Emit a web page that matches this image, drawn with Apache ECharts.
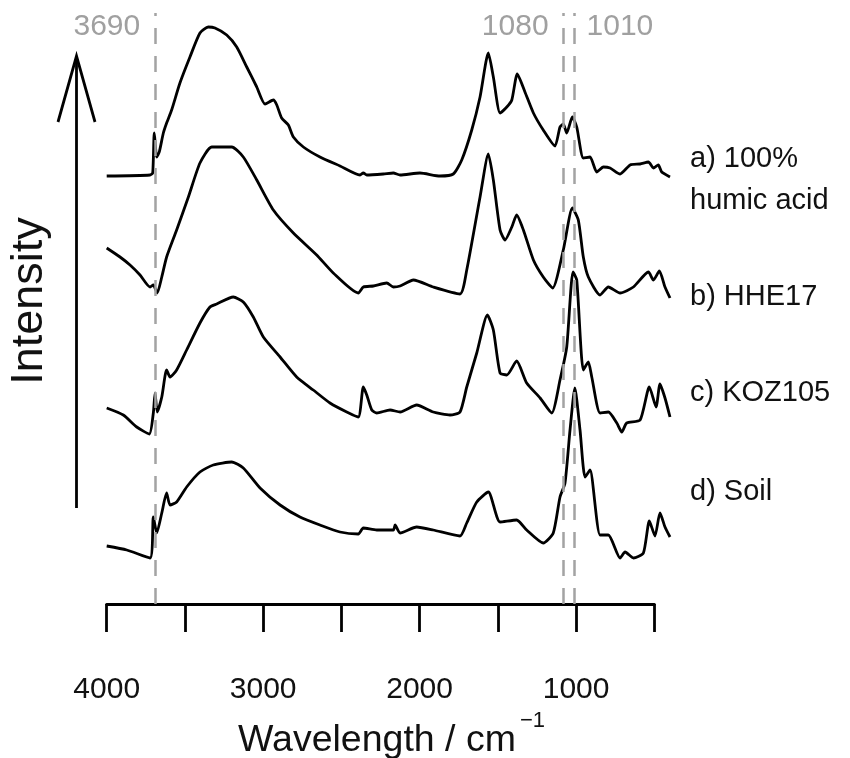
<!DOCTYPE html>
<html>
<head>
<meta charset="utf-8">
<title>FTIR spectra</title>
<script src="https://cdn.jsdelivr.net/npm/echarts/dist/echarts.min.js"></script>
<style>
  html, body { margin: 0; padding: 0; background: #fff; }
  #chart { width: 850px; height: 758px; }
</style>
</head>
<body>
<div id="chart"></div>
<script>
// wavenumbers (cm-1) and offset intensities (arbitrary units)
const wnA = [4000, 3723, 3706, 3696, 3680, 3664, 3638, 3617, 3585, 3532, 3468, 3404, 3351, 3308, 3233, 3169, 3105, 3041, 2988, 2935, 2913, 2882, 2839, 2807, 2743, 2637, 2509, 2381, 2360, 2338, 2232, 2168, 2125, 1998, 1870, 1785, 1731, 1667, 1614, 1561, 1529, 1486, 1443, 1411, 1376, 1327, 1273, 1210, 1135, 1103, 1082, 1060, 1024, 996, 954, 911, 868, 826, 783, 719, 655, 591, 538, 506, 475, 453, 400];
const humicAcid = [428, 429, 431, 471, 447, 452, 471, 481, 494, 521, 547, 571, 577, 576, 569, 557, 537, 517, 500, 504, 499, 486, 479, 467, 457, 447, 438, 429, 431, 429, 430, 431, 429, 431, 428, 430, 444, 474, 507, 551, 527, 491, 497, 504, 530, 512, 491, 474, 458, 477, 480, 471, 487, 477, 446, 447, 432, 437, 436, 430, 439, 440, 442, 436, 439, 432, 427];

const wnB = [4000, 3915, 3851, 3787, 3723, 3702, 3677, 3648, 3617, 3553, 3478, 3404, 3329, 3201, 3127, 3041, 2935, 2807, 2658, 2552, 2392, 2360, 2296, 2210, 2168, 2125, 2040, 1913, 1742, 1699, 1614, 1561, 1529, 1486, 1454, 1411, 1380, 1337, 1273, 1210, 1150, 1082, 1024, 986, 954, 922, 847, 794, 719, 634, 538, 506, 468, 432, 400];
const hhe17 = [356, 347, 339, 329, 317, 319, 311, 327, 347, 374, 407, 441, 457, 457, 447, 424, 394, 371, 349, 331, 311, 317, 318, 321, 317, 318, 324, 317, 310, 334, 407, 450, 424, 374, 364, 377, 389, 374, 344, 327, 316, 354, 396, 384, 347, 327, 309, 317, 311, 317, 332, 324, 333, 317, 306];

const wnC = [4000, 3894, 3808, 3728, 3702, 3691, 3677, 3648, 3617, 3595, 3553, 3489, 3404, 3340, 3297, 3191, 3127, 3063, 2999, 2892, 2786, 2680, 2573, 2466, 2392, 2360, 2338, 2306, 2274, 2189, 2125, 2019, 1913, 1806, 1742, 1699, 1635, 1567, 1529, 1486, 1443, 1380, 1316, 1230, 1156, 1103, 1060, 1020, 996, 954, 922, 900, 847, 794, 740, 708, 677, 591, 532, 489, 464, 432, 400];
const koz105 = [196, 189, 177, 170, 191, 211, 192, 207, 234, 227, 234, 254, 281, 297, 300, 307, 302, 287, 267, 247, 227, 214, 201, 192, 187, 217, 209, 194, 191, 194, 192, 199, 192, 189, 192, 217, 251, 289, 274, 231, 229, 243, 221, 206, 191, 224, 257, 332, 324, 234, 242, 227, 191, 192, 181, 172, 181, 184, 217, 197, 220, 206, 187];

const wnD = [4000, 3872, 3723, 3702, 3680, 3648, 3617, 3595, 3553, 3489, 3404, 3319, 3201, 3127, 3020, 2892, 2765, 2637, 2509, 2392, 2360, 2274, 2168, 2157, 2125, 2019, 1913, 1742, 1699, 1635, 1561, 1486, 1380, 1316, 1210, 1146, 1103, 1071, 1039, 1008, 975, 943, 911, 847, 794, 719, 687, 634, 570, 532, 496, 464, 432, 400];
const soil = [58, 54, 46, 87, 71, 91, 111, 99, 102, 117, 132, 139, 142, 136, 116, 99, 87, 79, 72, 70, 76, 74, 74, 79, 71, 77, 74, 68, 81, 102, 112, 82, 84, 74, 61, 71, 107, 121, 174, 216, 174, 127, 134, 69, 69, 46, 52, 46, 51, 83, 68, 91, 77, 67];

const sampleLabels = ['a) 100%\nhumic acid', 'b) HHE17', 'c) KOZ105', 'd) Soil'];
const markedBands = [3690, 1080, 1010];

const FONT = '"Liberation Sans", Arial, Helvetica, sans-serif';
const chart = echarts.init(document.getElementById('chart'));

const pairs = (w, v) => w.map((x, i) => [x, v[i]]);
const spectrum = (w, v) => ({
  type: 'line',
  xAxisIndex: 0,
  yAxisIndex: 0,
  data: pairs(w, v),
  showSymbol: false,
  smooth: 0.2,
  lineStyle: { color: '#000', width: 2.8 },
  silent: true
});

const series = [
  spectrum(wnA, humicAcid),
  spectrum(wnB, hhe17),
  spectrum(wnC, koz105),
  spectrum(wnD, soil)
];
series[0].markLine = {
  symbol: 'none',
  silent: true,
  label: { show: false },
  lineStyle: { type: [16, 12], color: '#a3a3a3', width: 2.5 },
  data: markedBands.map(v => ({ xAxis: v }))
};

const option = {
  animation: false,
  backgroundColor: '#fff',
  grid: [
    { left: 106.7, right: 180, top: 13, bottom: 154 },
    { left: 106.7, right: 195.7, top: 13, bottom: 154 }
  ],
  xAxis: [
    { gridIndex: 0, type: 'value', min: 400, max: 4000, inverse: true, show: false },
    {
      gridIndex: 1, type: 'value', min: 500, max: 4000, interval: 500, inverse: true,
      axisLine: { onZero: false, lineStyle: { color: '#000', width: 2.8 } },
      axisTick: { length: 28, lineStyle: { color: '#000', width: 2.8 } },
      axisLabel: {
        margin: 71, fontSize: 30, color: '#111', fontFamily: FONT,
        showMinLabel: true, showMaxLabel: true,
        formatter: v => (v % 1000 === 0 ? String(v) : '')
      },
      splitLine: { show: false }
    }
  ],
  yAxis: [
    { gridIndex: 0, type: 'value', min: 0, max: 591, show: false },
    { gridIndex: 1, type: 'value', min: 0, max: 591, show: false }
  ],
  series: series
};
chart.setOption(option);

// annotations placed with the chart's own scale
const px = (wn, val) => chart.convertToPixel({ xAxisIndex: 0, yAxisIndex: 0 }, [wn, val]);
const graphics = [];

markedBands.forEach(b => {
  const p = px(b, 0);
  const rightSide = b === 1010;
  graphics.push({
    type: 'text',
    x: rightSide ? p[0] + 12 : p[0] - 15,
    y: 27,
    style: {
      text: String(b), font: '30px ' + FONT, fill: '#a0a0a0',
      textAlign: rightSide ? 'left' : 'right', textVerticalAlign: 'middle'
    }
  });
});

const labelY = [180, 297, 393, 492];
sampleLabels.forEach((t, i) => {
  graphics.push({
    type: 'text', x: 690, y: labelY[i],
    style: { text: t, font: '29px ' + FONT, fill: '#111', lineHeight: 42, textAlign: 'left', textVerticalAlign: 'middle' }
  });
});

// intensity arrow
graphics.push({ type: 'line', shape: { x1: 76.5, y1: 508, x2: 76.5, y2: 57 }, style: { stroke: '#000', lineWidth: 2.8 } });
graphics.push({ type: 'polyline', shape: { points: [[58, 122], [76.5, 56], [95, 122]] }, style: { stroke: '#000', lineWidth: 2.8, fill: null } });
graphics.push({
  type: 'text', x: 30, y: 301, rotation: Math.PI / 2,
  style: { text: 'Intensity', font: '45px ' + FONT, fill: '#111', textAlign: 'center', textVerticalAlign: 'middle' }
});

// axis title with superscript
graphics.push({
  type: 'text', x: 377, y: 741,
  style: { text: 'Wavelength / cm', font: '37.5px ' + FONT, fill: '#111', textAlign: 'center', textVerticalAlign: 'middle' }
});
graphics.push({
  type: 'text', x: 520, y: 721,
  style: { text: '\u22121', font: '22px ' + FONT, fill: '#111', textAlign: 'left', textVerticalAlign: 'middle' }
});

chart.setOption({ graphic: graphics });
</script>
</body>
</html>
